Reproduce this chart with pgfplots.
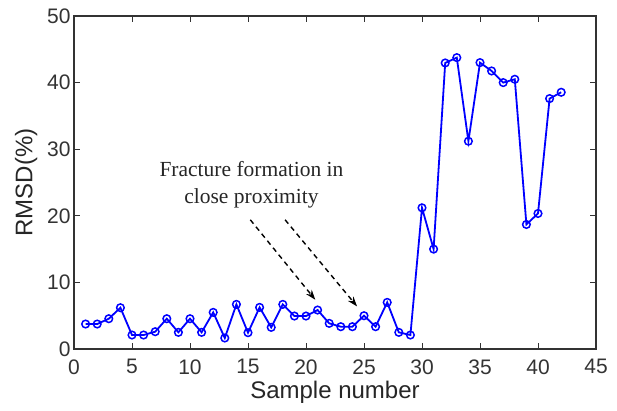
\documentclass[border=0pt]{standalone}
\usepackage{fontspec}
\setmainfont{Liberation Sans}
\newfontfamily\timesfont{Liberation Serif}
\usepackage{pgfplots}
\pgfplotsset{compat=1.18}
\usetikzlibrary{arrows.meta}
\definecolor{mblue}{RGB}{0,0,255}
\begin{document}
\begin{tikzpicture}
\begin{axis}[scale only axis,width=522pt,height=333pt,
	xmin=0,xmax=45,ymin=0,ymax=50,
	xtick={0,5,...,45},ytick={0,10,...,50},
	tick align=inside,major tick length=6pt,
	axis line style={line width=1.2pt,black!80},
	tick style={line width=1pt,black!80},
	/pgf/number format/assume math mode=true,
	ticklabel style={font=\fontsize{21}{23}\selectfont,text=black!80},
	xticklabel style={yshift=-7pt},
	label style={font=\fontsize{24}{26}\selectfont,text=black!85},
	xlabel={Sample number},ylabel={RMSD(\%)},
	ylabel style={yshift=3pt},
	clip=false]
\addplot[mblue,line width=1.8pt,mark=o,mark size=3.8pt,mark options={line width=1.5pt}] coordinates {
	(1,3.75) (2,3.75) (3,4.55) (4,6.2) (5,2.1) (6,2.1) (7,2.6) (8,4.55) (9,2.5) (10,4.55)
	(11,2.5) (12,5.5) (13,1.65) (14,6.7) (15,2.45) (16,6.25) (17,3.25) (18,6.7) (19,4.95) (20,4.95)
	(21,5.85) (22,3.85) (23,3.35) (24,3.35) (25,5.0) (26,3.35) (27,7.0) (28,2.5) (29,2.1) (30,21.2)
	(31,15.0) (32,42.95) (33,43.75) (34,31.2) (35,43.0) (36,41.75) (37,40.0) (38,40.5) (39,18.7) (40,20.35)
	(41,37.6) (42,38.55)};
\node[font=\timesfont\fontsize{21.5}{27}\selectfont,align=center,text=black!85] at (axis cs:15.3,24.6) {Fracture formation in\\close proximity};
\draw[black,line width=1.4pt,dash pattern=on 5pt off 4pt,-{Stealth[length=10pt,width=7pt]}] (axis cs:15.2,19.4) -- (axis cs:20.8,7.4);
\draw[black,line width=1.4pt,dash pattern=on 5pt off 4pt,-{Stealth[length=10pt,width=7pt]}] (axis cs:18.2,19.4) -- (axis cs:24.4,6.4);
\end{axis}
\path (-74pt,-61pt) rectangle (543pt,349pt);
\end{tikzpicture}
\end{document}
